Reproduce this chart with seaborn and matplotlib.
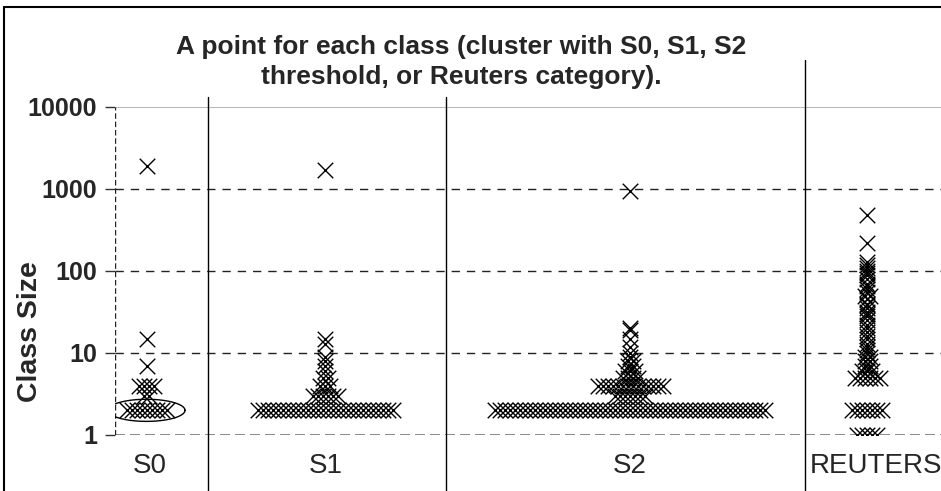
import numpy as np
import pandas as pd
import matplotlib
matplotlib.use("Agg")
import matplotlib.pyplot as plt
import seaborn as sns
from matplotlib.lines import Line2D

# class sizes, as (value, how many classes have it)
groups = ["S0", "S1", "S2", "REUTERS"]
s0_values = [1900, 15, 7, 4, 3, 2]
s0_counts = [1, 1, 1, 4, 2, 9]
s1_values = [1700, 15, 13, 9, 8, 7, 6, 5, 4, 3, 2]
s1_counts = [1, 1, 1, 1, 1, 1, 1, 2, 3, 6, 28]
s2_values = [950, 20, 19, 15, 12, 10, 9, 8, 7, 6, 5, 4, 3, 2]
s2_counts = [1, 1, 1, 1, 1, 1, 1, 2, 2, 3, 4, 14, 7, 55]
reuters_values = [480, 220, 130, 120, 110, 100, 95, 90, 80, 70, 65, 60, 55,
                  50, 45, 40, 38, 35, 32, 30, 28, 25, 22, 20, 18, 16, 15, 13,
                  12, 11, 10, 9, 8, 7, 6, 5, 2, 1]
reuters_counts = [1, 1, 1, 1, 1, 1, 1, 1, 1, 1, 1, 1, 1,
                  2, 1, 1, 1, 1, 1, 1, 1, 1, 1, 1, 1, 1, 1, 1,
                  1, 1, 1, 2, 2, 2, 3, 6, 7, 5]

yticks = [1, 10, 100, 1000, 10000]
title = "A point for each class (cluster with S0, S1, S2\nthreshold, or Reuters category)."

# layout of the x axis (one unit = gap between two marks of equal value)
centers = [6.3, 42.0, 103.0, 150.4]
label_pos = [7.0, 42.2, 103.0, 152.2]
separators = [18.6, 66.2, 138.0]

rows = []
for name, c, vals, cnts in zip(groups, centers,
                               [s0_values, s1_values, s2_values, reuters_values],
                               [s0_counts, s1_counts, s2_counts, reuters_counts]):
    for v, n in zip(vals, cnts):
        for i in range(n):
            rows.append({"group": name, "x": c + i - (n - 1) / 2, "size": v})
df = pd.DataFrame(rows)

sns.set_style("white")
plt.rcParams["font.family"] = ["Liberation Sans", "DejaVu Sans"]

fig = plt.figure(figsize=(9.41, 4.91), dpi=100)
W, H = 941, 491
ax = fig.add_axes([115 / W, (H - 435) / H, 850 / W, 328 / H])

sns.scatterplot(data=df, x="x", y="size", marker="x", color="black",
                s=125, linewidth=1.0, legend=False, ax=ax, zorder=3)

# ellipse around the S0 row of size 2 (drawn in log space so it stays round)
t = np.linspace(0, 2 * np.pi, 300)
ax.plot(centers[0] + 7.7 * np.cos(t), 2 * 10 ** (0.135 * np.sin(t)),
        color="black", lw=1.0, zorder=4)

ax.set_yscale("log")
ax.set_ylim(1, 10000)
ax.set_xlim(0, 170)
ax.set_yticks(yticks)
ax.set_yticklabels([str(v) for v in yticks], fontsize=18, fontweight="bold")
ax.minorticks_off()
ax.tick_params(axis="y", length=7, width=1, color="#333333", pad=6, left=True)
ax.set_xticks(label_pos)
ax.set_xticklabels(groups, fontsize=20)
ax.tick_params(axis="x", length=0, pad=13)
ax.set_xlabel("")
ax.set_ylabel("Class Size", fontsize=20.5, fontweight="bold")
ax.yaxis.set_label_coords(-0.085, 0.314)

for v in [10, 100, 1000]:
    ax.axhline(v, color="#222222", lw=1, ls=(0, (6, 5)), zorder=1)

for side in ["right", "bottom", "left", "top"]:
    ax.spines[side].set_visible(False)
ax.axhline(1, color="#777777", lw=1.2, ls=(0, (6, 3)), zorder=1)
ax.axhline(10000, color="#aaaaaa", lw=1.2, zorder=1)
ax.axvline(0, color="#222222", lw=1, ls=(0, (4, 2)), zorder=1)

# class separators running past the plot area
for sx, top in zip(separators, [97, 97, 60]):
    xf = ax.transData.transform((sx, 1))[0] / W
    fig.add_artist(Line2D([xf, xf], [0, (H - top) / H], color="black", lw=1))

# chart frame (cropped on the right and bottom)
fig.add_artist(Line2D([4 / W, 4 / W], [0, (H - 7) / H], color="black", lw=1.5))
fig.add_artist(Line2D([4 / W, 1], [(H - 7) / H, (H - 7) / H], color="black", lw=1.5))

fig.text(461 / W, (H - 62) / H, title, ha="center", va="center",
         fontsize=19, fontweight="bold", linespacing=1.35)

fig.savefig("out.png", dpi=100)
